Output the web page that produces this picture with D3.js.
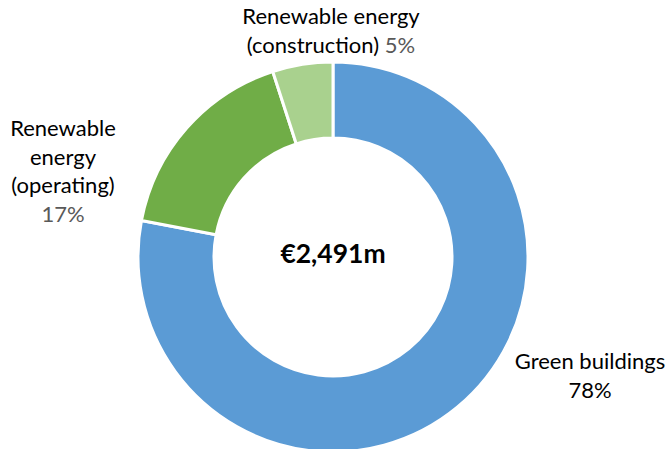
<!DOCTYPE html>
<html>
<head>
<meta charset="utf-8">
<script src="https://cdn.jsdelivr.net/npm/d3@7"></script>
<style>
  body { margin: 0; background: #fff; }
  text { font-family: Lato, "Open Sans", sans-serif; }
</style>
</head>
<body>
<svg id="chart" width="671" height="449"></svg>
<script>
// data
var categories = ["Green buildings", "Renewable energy (operating)", "Renewable energy (construction)"];
var shares = [78, 17, 5];
var colours = ["#5b9bd5", "#70ad47", "#a9d18e"];
var totalLabel = "€2,491m";

var svg = d3.select("#chart");
var cx = 333, cy = 257;

var pie = d3.pie().sort(null).value(function(d) { return d; });
var arc = d3.arc().innerRadius(119).outerRadius(195);

var g = svg.append("g").attr("transform", "translate(" + cx + "," + cy + ")");
g.selectAll("path")
  .data(pie(shares))
  .enter()
  .append("path")
  .attr("d", arc)
  .attr("fill", function(d, i) { return colours[i]; })
  .attr("stroke", "#fff")
  .attr("stroke-width", 3);

g.append("text")
  .attr("text-anchor", "middle")
  .attr("y", 6)
  .style("font-weight", "bold")
  .style("font-size", "26.5px")
  .attr("fill", "#000")
  .text(totalLabel);

// labels: each line is [text] or [text, percent]
var labels = [
  { x: 590, y: 369, lines: [["Green buildings"], ["78%"]], pctCol: "#000" },
  { x: 63, y: 136, lines: [["Renewable"], ["energy"], ["(operating)"], ["17%"]], pctCol: "#595959" },
  { x: 331, y: 24, lines: [["Renewable energy"], ["(construction) ", "5%"]], pctCol: "#595959" }
];
labels.forEach(function(l) {
  var t = svg.append("text")
    .attr("text-anchor", "middle")
    .style("font-size", "22px");
  l.lines.forEach(function(line, j) {
    var ts = t.append("tspan").attr("x", l.x).attr("y", l.y + j * 28.5);
    if (line.length === 2) {
      ts.append("tspan").attr("fill", "#000").text(line[0]);
      ts.append("tspan").attr("fill", l.pctCol).text(line[1]);
    } else {
      ts.attr("fill", /%$/.test(line[0]) ? l.pctCol : "#000").text(line[0]);
    }
  });
});
</script>
</body>
</html>
